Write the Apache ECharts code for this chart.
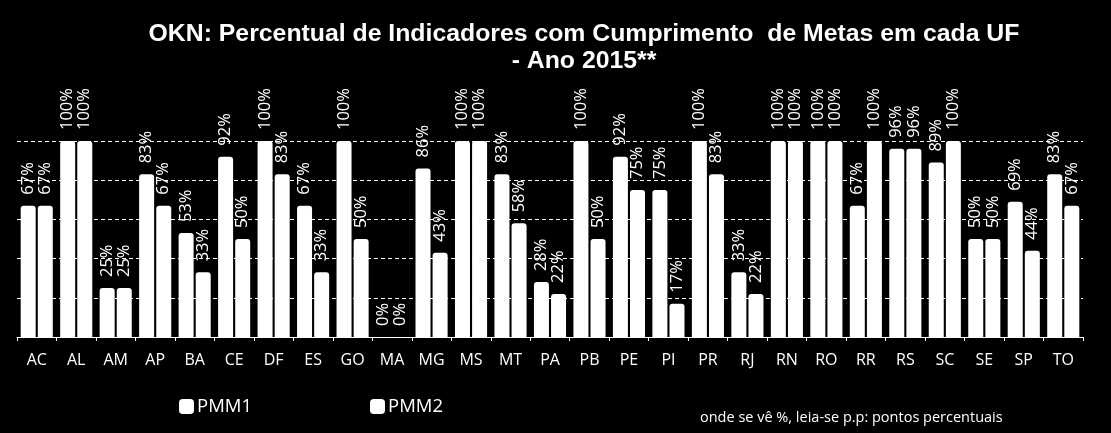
<!DOCTYPE html>
<html>
<head>
<meta charset="utf-8">
<script src="https://cdn.jsdelivr.net/npm/echarts@6/dist/echarts.min.js"></script>
<style>
html,body{margin:0;padding:0;background:#000;}
#chart{width:1111px;height:433px;}
</style>
</head>
<body>
<div id="chart"></div>
<script>
const categories = ['AC','AL','AM','AP','BA','CE','DF','ES','GO','MA','MG','MS','MT','PA','PB','PE','PI','PR','RJ','RN','RO','RR','RS','SC','SE','SP','TO'];
const pmm1 = [67,100,25,83,53,92,100,67,100,0,86,100,83,28,100,92,75,100,33,100,100,67,96,89,50,69,83];
const pmm2 = [67,100,25,67,33,50,83,33,50,0,43,100,58,22,50,75,17,83,22,100,100,100,96,100,50,44,67];
const yTicks = [0,20,40,60,80,100];
const titleText = 'OKN: Percentual de Indicadores com Cumprimento  de Metas em cada UF\n- Ano 2015**';
const noteText = 'onde se vê %, leia-se p.p: pontos percentuais';

const chart = echarts.init(document.getElementById('chart'));
const labelCfg = {
  show: true,
  position: 'top',
  rotate: 90,
  align: 'left',
  verticalAlign: 'middle',
  distance: 11,
  color: '#fff',
  fontFamily: 'Open Sans',
  fontSize: 16.5,
  formatter: p => p.value + '%'
};
const legendBase = {
  top: 397, padding: 0,
  itemWidth: 15, itemHeight: 15, itemGap: 4,
  icon: 'roundRect',
  textStyle: {color:'#fff', fontFamily:'Open Sans', fontSize:18.5, padding:[0,0,0,-2]}
};
chart.setOption({
  backgroundColor: '#000',
  animation: false,
  title: [{
    text: titleText,
    left: 579,
    top: 16,
    textAlign: 'center',
    textStyle: {color:'#fff', fontFamily:'Liberation Sans', fontWeight:'bold', fontSize:24.8, lineHeight:27}
  },{
    text: noteText,
    left: 695,
    top: 405,
    textStyle: {color:'#fff', fontFamily:'Open Sans', fontWeight:'normal', fontSize:14.5}
  }],
  legend: [
    Object.assign({data:['PMM1'], left:179}, legendBase),
    Object.assign({data:['PMM2'], left:370}, legendBase)
  ],
  grid: {left: 17, right: 28, top: 141, bottom: 96, containLabel: false},
  xAxis: {
    type: 'category',
    data: categories,
    axisLine: {lineStyle: {color:'#fff', width:1}},
    axisTick: {show:true, length:4, lineStyle:{color:'#fff'}},
    axisLabel: {color:'#fff', fontFamily:'Open Sans', fontSize:16, margin:15}
  },
  yAxis: {
    type: 'value',
    min: yTicks[0], max: yTicks[yTicks.length-1], interval: 20,
    axisLine: {show:false},
    axisTick: {show:false},
    axisLabel: {show:false},
    splitLine: {show:true, lineStyle:{color:'#fff', type:[4,3], width:1}}
  },
  series: [{
    name: 'PMM1', type: 'bar', data: pmm1,
    barWidth: 15, barGap: '14%',
    itemStyle: {color:'#fff', borderRadius:[3,3,0,0]},
    label: labelCfg
  },{
    name: 'PMM2', type: 'bar', data: pmm2,
    barWidth: 15, barGap: '14%',
    itemStyle: {color:'#fff', borderRadius:[3,3,0,0]},
    label: labelCfg
  }]
});
</script>
</body>
</html>
